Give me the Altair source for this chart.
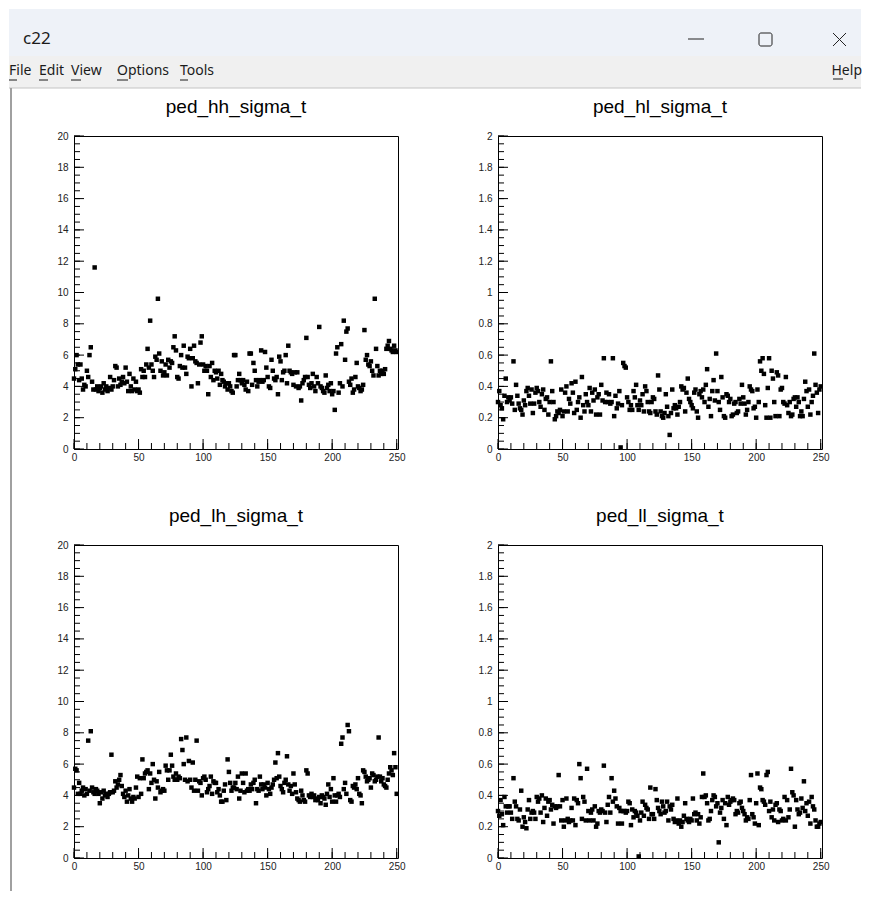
import altair as alt
import pandas as pd

TITLES = ["ped_hh_sigma_t", "ped_hl_sigma_t", "ped_lh_sigma_t", "ped_ll_sigma_t"]

hh = [
    4.5, 5.1, 6.0, 5.4, 4.4, 5.4, 4.5, 3.8, 4.1, 4.0,
    5.0, 4.6, 6.0, 6.5, 4.3, 3.8, 11.6, 3.8, 4.0, 3.7,
    3.9, 4.0, 3.6, 4.2, 3.8, 4.0, 3.7, 3.9, 4.6, 3.8,
    4.0, 4.4, 5.3, 5.2, 4.0, 4.5, 4.1, 4.3, 4.6, 4.2,
    5.2, 4.3, 3.7, 4.8, 4.0, 3.7, 4.5, 3.8, 4.3, 3.7,
    3.8, 3.6, 5.1, 4.6, 5.0, 4.6, 5.4, 6.4, 5.2, 8.2,
    5.4, 5.0, 4.6, 5.9, 5.7, 9.6, 6.1, 5.0, 5.6, 4.7,
    4.9, 5.4, 4.7, 5.7, 5.2, 5.6, 5.5, 6.5, 7.2, 6.3,
    4.6, 4.5, 5.3, 6.0, 5.2, 6.6, 5.2, 4.8, 5.9, 5.8,
    6.4, 4.0, 5.8, 6.6, 5.6, 5.5, 4.2, 5.4, 6.8, 7.2,
    5.4, 5.0, 5.3, 5.0, 3.5, 5.3, 4.6, 5.5, 4.4, 5.0,
    4.9, 4.5, 5.0, 4.1, 4.8, 4.4, 4.3, 4.0, 4.2, 3.8,
    4.2, 4.0, 3.7, 3.6, 6.0, 6.0, 4.0, 4.4, 4.8, 4.4,
    4.2, 4.4, 4.1, 3.8, 4.3, 3.7, 6.1, 6.1, 4.1, 5.5,
    5.0, 4.4, 4.0, 4.3, 4.4, 6.3, 4.3, 4.4, 6.2, 5.2,
    4.6, 4.0, 3.9, 5.7, 5.0, 4.5, 4.4, 4.6, 3.5, 5.9,
    5.6, 4.4, 4.9, 5.0, 6.0, 4.2, 6.6, 5.0, 4.9, 4.8,
    4.1, 4.9, 4.0, 4.9, 3.9, 4.0, 3.1, 4.2, 4.4, 4.6,
    7.1, 4.6, 4.1, 3.9, 4.2, 4.8, 4.0, 3.7, 4.6, 4.2,
    7.8, 4.0, 3.9, 3.7, 3.6, 4.7, 3.9, 4.1, 3.7, 4.2,
    3.5, 3.7, 2.5, 6.1, 6.5, 3.6, 4.2, 6.7, 4.0, 8.2,
    5.7, 7.5, 7.7, 4.3, 4.1, 4.5, 3.6, 3.8, 4.6, 5.5,
    4.0, 3.9, 3.7, 3.8, 4.1, 7.6, 5.7, 6.0, 5.4, 5.3,
    5.6, 5.0, 4.7, 9.6, 6.4, 5.3, 4.7, 5.0, 4.8, 5.0,
    4.8, 5.1, 6.4, 6.6, 6.9, 6.4, 6.3, 6.2, 6.6, 6.3,
    6.2,
]

hl = [
    0.30, 0.37, 0.28, 0.26, 0.19, 0.34, 0.45, 0.30, 0.33, 0.31,
    0.33, 0.29, 0.56, 0.25, 0.41, 0.34, 0.29, 0.26, 0.25, 0.22,
    0.31, 0.28, 0.37, 0.39, 0.34, 0.29, 0.38, 0.23, 0.29, 0.36,
    0.39, 0.37, 0.30, 0.27, 0.35, 0.38, 0.25, 0.32, 0.33, 0.22,
    0.30, 0.56, 0.37, 0.30, 0.19, 0.21, 0.24, 0.23, 0.25, 0.38,
    0.21, 0.24, 0.36, 0.40, 0.24, 0.32, 0.29, 0.42, 0.36, 0.23,
    0.43, 0.25, 0.30, 0.33, 0.20, 0.46, 0.28, 0.24, 0.35, 0.30,
    0.28, 0.39, 0.24, 0.36, 0.31, 0.38, 0.22, 0.33, 0.35, 0.22,
    0.41, 0.31, 0.58, 0.30, 0.36, 0.30, 0.35, 0.29, 0.30, 0.58,
    0.21, 0.34, 0.26, 0.29, 0.37, 0.01, 0.28, 0.55, 0.53, 0.52,
    0.33, 0.30, 0.25, 0.28, 0.25, 0.37, 0.33, 0.41, 0.28, 0.25,
    0.31, 0.28, 0.35, 0.24, 0.40, 0.37, 0.30, 0.24, 0.23, 0.30,
    0.33, 0.32, 0.24, 0.22, 0.47, 0.38, 0.24, 0.21, 0.20, 0.23,
    0.35, 0.27, 0.21, 0.09, 0.23, 0.38, 0.26, 0.28, 0.26, 0.22,
    0.27, 0.30, 0.40, 0.38, 0.39, 0.24, 0.36, 0.45, 0.32, 0.30,
    0.28, 0.26, 0.36, 0.38, 0.24, 0.20, 0.35, 0.37, 0.33, 0.38,
    0.30, 0.41, 0.51, 0.27, 0.32, 0.21, 0.37, 0.44, 0.31, 0.61,
    0.37, 0.30, 0.25, 0.46, 0.33, 0.21, 0.20, 0.35, 0.34, 0.30,
    0.32, 0.21, 0.22, 0.29, 0.30, 0.23, 0.24, 0.32, 0.29, 0.41,
    0.33, 0.29, 0.22, 0.25, 0.30, 0.40, 0.38, 0.37, 0.26, 0.27,
    0.20, 0.38, 0.30, 0.56, 0.50, 0.58, 0.48, 0.28, 0.20, 0.39,
    0.58, 0.20, 0.50, 0.45, 0.30, 0.21, 0.49, 0.47, 0.21, 0.38,
    0.39, 0.30, 0.29, 0.46, 0.28, 0.23, 0.30, 0.21, 0.22, 0.32,
    0.33, 0.27, 0.33, 0.30, 0.21, 0.24, 0.21, 0.32, 0.43, 0.37,
    0.27, 0.38, 0.22, 0.30, 0.34, 0.61, 0.41, 0.36, 0.23, 0.38,
    0.40,
]

lh = [
    4.5, 5.7, 5.6, 4.1, 4.8, 4.1, 4.3, 4.5, 4.0, 4.4,
    4.1, 7.5, 4.3, 8.1, 4.5, 4.2, 4.1, 4.4, 4.3, 4.1,
    3.5, 4.2, 3.8, 4.3, 4.0, 4.1, 3.9, 4.1, 4.2, 6.6,
    4.2, 4.3, 4.9, 4.5, 4.7, 5.0, 5.3, 4.6, 4.1, 3.9,
    4.3, 3.6, 4.0, 4.4, 3.8, 3.6, 3.9, 3.8, 4.5, 5.2,
    3.9, 5.1, 4.1, 6.3, 5.1, 5.4, 5.5, 5.6, 4.4, 5.4,
    4.8, 6.0, 5.0, 3.8, 4.9, 4.5, 5.5, 4.2, 4.3, 4.4,
    4.3, 5.9, 5.6, 5.0, 5.6, 6.6, 5.9, 5.2, 5.0, 5.4,
    5.0, 5.2, 5.1, 7.6, 6.9, 6.0, 5.0, 7.7, 4.9, 6.2,
    5.0, 4.5, 6.1, 4.3, 5.0, 7.5, 4.3, 4.9, 4.8, 4.0,
    5.1, 5.2, 5.0, 4.2, 4.4, 4.6, 5.2, 4.1, 4.9, 4.8,
    4.8, 4.2, 4.4, 4.0, 3.6, 3.6, 4.3, 4.7, 3.7, 6.3,
    5.5, 4.8, 4.3, 4.5, 4.5, 4.8, 4.4, 5.2, 3.8, 4.3,
    5.4, 4.8, 4.2, 5.4, 4.3, 4.4, 4.3, 4.7, 4.4, 4.8,
    5.0, 3.5, 4.4, 4.3, 5.2, 4.7, 4.4, 4.7, 4.5, 4.0,
    4.8, 4.4, 4.1, 4.5, 4.7, 5.0, 6.1, 5.1, 6.7, 5.2,
    4.6, 4.4, 4.2, 4.8, 5.0, 6.5, 4.7, 4.3, 4.6, 4.1,
    5.4, 4.7, 4.2, 3.8, 3.7, 3.6, 4.3, 4.0, 3.7, 3.6,
    5.6, 5.4, 4.0, 3.9, 4.1, 3.9, 4.0, 3.7, 3.8, 3.7,
    3.9, 3.5, 4.0, 3.9, 3.8, 3.4, 4.1, 4.7, 3.9, 4.4,
    3.6, 5.1, 4.0, 3.6, 4.0, 4.1, 3.9, 7.3, 7.7, 4.4,
    4.8, 4.1, 8.5, 8.1, 3.7, 3.6, 4.6, 4.5, 4.7, 4.4,
    5.1, 4.1, 4.0, 3.5, 5.6, 5.5, 5.2, 4.9, 5.0, 5.1,
    4.5, 5.4, 5.3, 4.9, 5.0, 5.2, 7.7, 5.2, 4.9, 5.1,
    4.7, 4.6, 4.5, 5.0, 5.4, 5.8, 5.6, 5.3, 6.7, 5.8,
    4.1,
]

ll = [
    0.30, 0.27, 0.37, 0.28, 0.21, 0.39, 0.33, 0.29, 0.33, 0.33,
    0.29, 0.25, 0.51, 0.36, 0.33, 0.25, 0.24, 0.31, 0.43, 0.20,
    0.26, 0.23, 0.19, 0.31, 0.37, 0.25, 0.29, 0.30, 0.29, 0.25,
    0.39, 0.36, 0.38, 0.29, 0.40, 0.23, 0.32, 0.38, 0.27, 0.36,
    0.37, 0.31, 0.34, 0.22, 0.33, 0.32, 0.33, 0.53, 0.33, 0.24,
    0.37, 0.20, 0.24, 0.38, 0.25, 0.23, 0.24, 0.32, 0.24, 0.38,
    0.21, 0.37, 0.35, 0.60, 0.51, 0.25, 0.39, 0.36, 0.24, 0.57,
    0.30, 0.24, 0.29, 0.31, 0.24, 0.33, 0.20, 0.22, 0.30, 0.29,
    0.31, 0.30, 0.59, 0.29, 0.23, 0.34, 0.39, 0.29, 0.51, 0.36,
    0.43, 0.38, 0.33, 0.22, 0.32, 0.30, 0.22, 0.30, 0.30, 0.29,
    0.30, 0.36, 0.35, 0.21, 0.31, 0.26, 0.30, 0.29, 0.27, 0.01,
    0.24, 0.29, 0.36, 0.27, 0.34, 0.32, 0.31, 0.25, 0.45, 0.28,
    0.28, 0.25, 0.44, 0.37, 0.32, 0.30, 0.28, 0.36, 0.33, 0.29,
    0.30, 0.36, 0.24, 0.33, 0.31, 0.34, 0.25, 0.23, 0.24, 0.38,
    0.22, 0.24, 0.20, 0.23, 0.27, 0.35, 0.25, 0.24, 0.23, 0.25,
    0.24, 0.38, 0.28, 0.29, 0.24, 0.28, 0.22, 0.26, 0.39, 0.54,
    0.39, 0.40, 0.35, 0.24, 0.25, 0.30, 0.37, 0.40, 0.39, 0.33,
    0.35, 0.10, 0.29, 0.32, 0.37, 0.25, 0.35, 0.21, 0.39, 0.34,
    0.36, 0.37, 0.38, 0.37, 0.28, 0.30, 0.29, 0.35, 0.36, 0.32,
    0.30, 0.28, 0.24, 0.26, 0.25, 0.37, 0.53, 0.28, 0.26, 0.22,
    0.35, 0.54, 0.21, 0.45, 0.44, 0.37, 0.36, 0.34, 0.53, 0.55,
    0.30, 0.36, 0.26, 0.31, 0.24, 0.34, 0.35, 0.23, 0.31, 0.30,
    0.24, 0.25, 0.39, 0.24, 0.37, 0.26, 0.31, 0.57, 0.42, 0.40,
    0.20, 0.37, 0.31, 0.28, 0.29, 0.38, 0.32, 0.49, 0.30, 0.35,
    0.27, 0.36, 0.22, 0.39, 0.33, 0.31, 0.24, 0.20, 0.20, 0.22,
    0.23,
]

X_MAJOR = [0, 50, 100, 150, 200, 250]
X_MINOR = list(range(0, 251, 10))
Y_MAJOR_BIG = [0, 2, 4, 6, 8, 10, 12, 14, 16, 18, 20]
Y_MINOR_BIG = [i / 2 for i in range(41)]
Y_MAJOR_SMALL = [0, 0.2, 0.4, 0.6, 0.8, 1, 1.2, 1.4, 1.6, 1.8, 2]
Y_MINOR_SMALL = [round(i * 0.05, 2) for i in range(41)]
MENU = ["File", "Edit", "View", "Options", "Tools"]

W, H = 324, 313
FONT = "Liberation Sans"


def panel(values, title, ymax, ymaj, ymin):
    xs = alt.Scale(domain=[0, 251], nice=False, zero=False)
    ys = alt.Scale(domain=[0, ymax], nice=False, zero=False)
    xax = alt.Axis(values=X_MAJOR, ticks=False, domain=False, grid=False, title=None,
                   labelFlush=False, labelOverlap=False, labelPadding=3)
    yax = alt.Axis(values=ymaj, ticks=False, domain=False, grid=False, title=None,
                   labelFlush=False, labelOverlap=False, labelPadding=6, format="~g")
    df = pd.DataFrame({"ch": list(range(len(values))), "v": values})
    pts = alt.Chart(df).mark_square(size=20, color="black", opacity=1).encode(
        x=alt.X("ch:Q", scale=xs, axis=xax),
        y=alt.Y("v:Q", scale=ys, axis=yax),
    )
    ymaj_l = alt.Chart(pd.DataFrame({"v": ymaj})).mark_rule(color="black").encode(
        y=alt.Y("v:Q", scale=ys, axis=yax), x=alt.value(0), x2=alt.value(10))
    ymin_l = alt.Chart(pd.DataFrame({"v": ymin})).mark_rule(color="black").encode(
        y=alt.Y("v:Q", scale=ys, axis=yax), x=alt.value(0), x2=alt.value(6))
    xmaj_l = alt.Chart(pd.DataFrame({"ch": X_MAJOR})).mark_rule(color="black").encode(
        x=alt.X("ch:Q", scale=xs, axis=xax), y=alt.value(H), y2=alt.value(H - 10))
    xmin_l = alt.Chart(pd.DataFrame({"ch": X_MINOR})).mark_rule(color="black").encode(
        x=alt.X("ch:Q", scale=xs, axis=xax), y=alt.value(H), y2=alt.value(H - 6))
    return alt.layer(pts, ymaj_l, ymin_l, xmaj_l, xmin_l).properties(
        width=W, height=H,
        title=alt.TitleParams(title, fontSize=19, font=FONT, fontWeight="normal",
                              anchor="middle", frame="group", color="black",
                              baseline="bottom", offset=-5),
    )


base = alt.Chart(pd.DataFrame({"a": [0]}))
OX, OY = 8, 135  # page position of the top-left spacer's origin


def box(x1, x2, y1, y2, color):
    return base.mark_rect(color=color).encode(
        x=alt.value(x1 - OX), x2=alt.value(x2 - OX), y=alt.value(y1 - OY), y2=alt.value(y2 - OY))


def frame_box(x1, x2, y1, y2, color):
    return base.mark_rect(fill="transparent", stroke=color, strokeWidth=1, cornerRadius=2).encode(
        x=alt.value(x1 - OX), x2=alt.value(x2 - OX), y=alt.value(y1 - OY), y2=alt.value(y2 - OY))


def line(x1, x2, y1, y2, color, w=1):
    return base.mark_rule(color=color, strokeWidth=w).encode(
        x=alt.value(x1 - OX), x2=alt.value(x2 - OX), y=alt.value(y1 - OY), y2=alt.value(y2 - OY))


def label(t, x, y, size, align="left"):
    return base.mark_text(text=t, align=align, baseline="middle", fontSize=size,
                          font="Noto Sans", color="#1b1b1b").encode(
        x=alt.value(x - OX), y=alt.value(y - OY))


menu_x = [8, 38, 70, 116, 179]
menu_u = [8, 9, 10, 11, 8]
header_layers = [
    box(8, 860, 8, 55, "#eef2f8"),
    box(8, 860, 55, 87, "#f0f0f0"),
    line(8, 860, 87, 87, "#c4c4c4"),
    label("c22", 22, 38, 17),
    line(687, 703, 38, 38, "#222222"),
    frame_box(758, 771, 32, 45, "#222222"),
    line(832, 845, 32, 45, "#222222"),
    line(845, 832, 32, 45, "#222222"),
    label("Help", 861, 70, 14, align="right"),
    line(832, 842, 78, 78, "#1b1b1b"),
    line(10, 10, 87, 890, "#a0a0a0", 2),
]
for name, mx, mu in zip(MENU, menu_x, menu_u):
    header_layers.append(label(name, mx, 70, 14))
    header_layers.append(line(mx, mx + mu, 79, 79, "#1b1b1b"))

spA = alt.layer(*header_layers).properties(
    width=65, height=H, view=alt.ViewBackground(stroke="transparent"))


def spacer(w):
    return base.mark_point(opacity=0, size=1).encode(x=alt.value(20), y=alt.value(20)).properties(
        width=w, height=H, view=alt.ViewBackground(stroke="transparent"))


p1 = panel(hh, TITLES[0], 20, Y_MAJOR_BIG, Y_MINOR_BIG)
p2 = panel(hl, TITLES[1], 2, Y_MAJOR_SMALL, Y_MINOR_SMALL)
p3 = panel(lh, TITLES[2], 20, Y_MAJOR_BIG, Y_MINOR_BIG)
p4 = panel(ll, TITLES[3], 2, Y_MAJOR_SMALL, Y_MINOR_SMALL)

chart = alt.concat(
    spA, p1, spacer(100), p2,
    spacer(65), p3, spacer(100), p4,
    columns=4, spacing={"row": 96, "column": 0}, bounds="flush", align="each",
).properties(padding=0).configure_view(
    stroke="black", strokeWidth=1
).configure_axis(
    labelFont=FONT, labelFontSize=10, labelColor="#222222"
)

chart.save("out.html", embed_options={"renderer": "svg", "actions": False})
